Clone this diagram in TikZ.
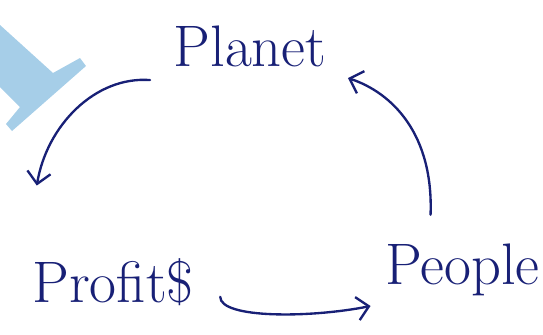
\documentclass[tikz,border=0pt]{standalone}
\usepackage{fontspec}
\usepackage{tikz}
\usetikzlibrary{calc,arrows.meta}
\definecolor{inkblue}{RGB}{24,32,118}
\definecolor{markblue}{RGB}{166,206,232}
\newcommand*{\hand}[1]{\fontsize{50}{58}\selectfont #1}

\begin{document}
\begin{tikzpicture}[x=0.03cm,y=-0.03cm,
  word/.style={inner sep=2pt,text=inkblue,anchor=base},
  flow/.style={inkblue,line width=2pt,line cap=round,
    -{Straight Barb[length=10pt,width=20pt,line width=2pt]}}]
% Frame of the whole picture
\useasboundingbox (0,0) rectangle (543,334);
% Faint mark in the top left corner
\fill[markblue] (0,25) -- (53,73) -- (80,58) -- (86,66) -- (12,131)
  -- (6,124) -- (20,107) -- (0,87) -- cycle;
% The three words
\node[word] (planet) at (250,66) {\hand{Planet}};
\node[word] (profit) at (113,302) {\hand{Profit\$}};
\node[word,anchor=base east] (people) at (542,284) {\hand{People}};
% Planet down to Profit
\draw[flow] ($(planet.south west)+(-21,11)$) .. controls +(-55,-4) and +(10,-60)
  .. ($(profit.north west)+(7,-70)$);
% People up to Planet
\draw[flow] ($(people.north west)+(48,-26)$) .. controls +(3,-80) and +(45,15)
  .. ($(planet.south east)+(19,9)$);
% Profit across to People
\draw[flow] ($(profit.south east)+(24,-11)$) .. controls +(0,22) and +(-60,12)
  .. ($(people.south west)+(-12,8)$);
\end{tikzpicture}
\end{document}
